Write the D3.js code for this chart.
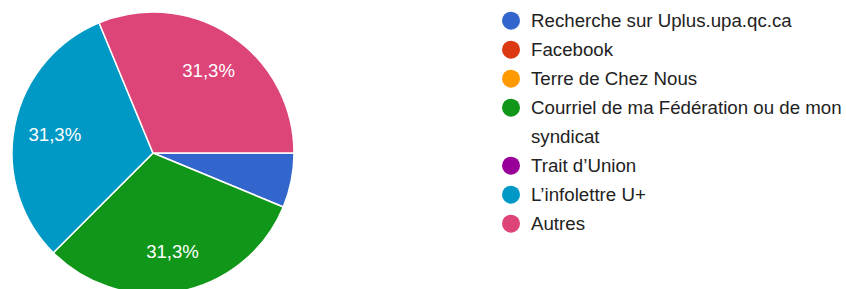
<!DOCTYPE html>
<html><head><meta charset="utf-8">
<script src="https://cdn.jsdelivr.net/npm/d3@7"></script>
<style>body{margin:0;background:#fff;}svg{display:block;}</style>
</head><body>
<svg id="c" width="846" height="289"></svg>
<script>
const categories = ["Recherche sur Uplus.upa.qc.ca","Facebook","Terre de Chez Nous","Courriel de ma Fédération ou de mon syndicat","Trait d’Union","L’infolettre U+","Autres"];
const values = [1,0,0,5,0,5,5];
const colors = ["#3366cc","#dc3912","#ff9900","#109618","#990099","#0099c6","#dd4477"];

const FONT = "'Liberation Sans', Arial, sans-serif";
const svg = d3.select("#c");
const cx = 153, cy = 153, r = 141;
const total = d3.sum(values);
const pie = d3.pie().sort(null).value(d => d.v).startAngle(Math.PI/2).endAngle(Math.PI/2 + 2*Math.PI);
const data = categories.map((c,i)=>({c, v: values[i], col: colors[i]}));
const arcs = pie(data).filter(a => a.data.v > 0);
const arc = d3.arc().innerRadius(0).outerRadius(r);
const labelArc = d3.arc().innerRadius(r*0.71).outerRadius(r*0.71);
const g = svg.append("g").attr("transform", `translate(${cx},${cy})`);
g.selectAll("path").data(arcs).join("path")
  .attr("d", arc).attr("fill", d => d.data.col)
  .attr("stroke", "#fff").attr("stroke-width", 1.5);
const fmt = v => (Math.round(v/total*1000)/10).toFixed(1).replace(".", ",") + "%";
g.selectAll("text").data(arcs.filter(a => a.endAngle - a.startAngle > 0.5)).join("text")
  .attr("transform", d => `translate(${labelArc.centroid(d)})`)
  .attr("text-anchor", "middle").attr("dy", "0.38em")
  .attr("fill", "#fff").attr("font-family", FONT).attr("font-size", 18.6)
  .text(d => fmt(d.data.v));

// legend
const lx = 511, ly0 = 20.7, lh = 29, maxW = 316;
let row = 0;
const lg = svg.append("g");
data.forEach((d,i) => {
  const y = ly0 + row*lh;
  lg.append("circle").attr("cx", lx).attr("cy", y).attr("r", 9).attr("fill", d.col);
  const t = lg.append("text").attr("x", 531).attr("y", y).attr("dy", "0.35em")
    .attr("font-family", FONT).attr("font-size", 18.7).attr("fill", "#222");
  const words = d.c.split(" ");
  let line = [];
  let ts = t.append("tspan").attr("x", 531);
  let lines = 1;
  words.forEach(w => {
    line.push(w);
    ts.text(line.join(" "));
    if (ts.node().getComputedTextLength() > maxW && line.length > 1) {
      line.pop(); ts.text(line.join(" "));
      line = [w];
      ts = t.append("tspan").attr("x", 531).attr("dy", lh).text(w);
      lines++;
    }
  });
  row += lines;
});
</script>
</body></html>
